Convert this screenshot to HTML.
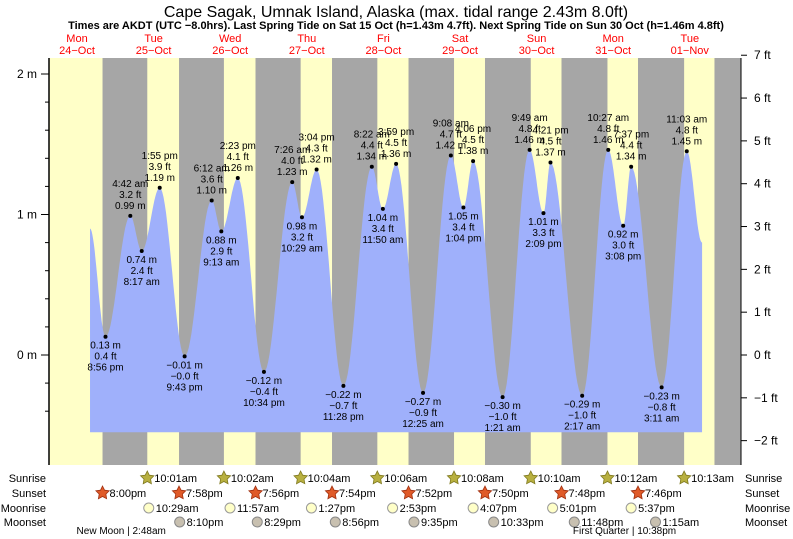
<!DOCTYPE html>
<html><head><meta charset="utf-8"><style>
body{margin:0;background:#fff}
svg{display:block;font-family:"Liberation Sans",sans-serif}
</style></head><body>
<svg id="c" width="793" height="539" viewBox="0 0 793 539">
<text x="396" y="17" text-anchor="middle" font-size="16">Cape Sagak, Umnak Island, Alaska (max. tidal range 2.43m 8.0ft)</text>
<text x="396" y="29" text-anchor="middle" font-size="11" font-weight="bold">Times are AKDT (UTC −8.0hrs). Last Spring Tide on Sat 15 Oct (h=1.43m 4.7ft). Next Spring Tide on Sun 30 Oct (h=1.46m 4.8ft)</text>
<g id="bands"></g>
<g id="tide"></g>
<g id="axes"></g>
<g id="labels"></g>
<g id="days"></g>
<g id="astro"></g>
</svg>
<script>
// data (day offset from 24-Oct 00:00, hours)
const tideDays = [0,0,1,1,1,1,2,2,2,2,3,3,3,3,4,4,4,5,5,5,5,6,6,6,6,7,7,7,7,8,8,8,8];
const tideHours = [16.08,20.93,4.7,8.28,13.92,21.72,6.2,9.22,14.38,22.57,7.43,10.48,15.07,23.47,8.37,11.83,15.98,0.42,9.13,13.07,16.1,1.35,9.82,14.15,16.35,2.28,10.45,15.13,17.62,3.18,11.05,15.83,15.84];
const tideHeights = [0.9,0.13,0.99,0.74,1.19,-0.01,1.10,0.88,1.26,-0.12,1.23,0.98,1.32,-0.22,1.34,1.04,1.36,-0.27,1.42,1.05,1.38,-0.30,1.46,1.01,1.37,-0.29,1.46,0.92,1.34,-0.23,1.45,0.8,0.8];
const tideTimes = ["","8:56 pm","4:42 am","8:17 am","1:55 pm","9:43 pm","6:12 am","9:13 am","2:23 pm","10:34 pm","7:26 am","10:29 am","3:04 pm","11:28 pm","8:22 am","11:50 am","3:59 pm","12:25 am","9:08 am","1:04 pm","4:06 pm","1:21 am","9:49 am","2:09 pm","4:21 pm","2:17 am","10:27 am","3:08 pm","7:37 pm","3:11 am","11:03 am","",""];
const dayNames = ["Mon","Tue","Wed","Thu","Fri","Sat","Sun","Mon","Tue"];
const dayDates = ["24−Oct","25−Oct","26−Oct","27−Oct","28−Oct","29−Oct","30−Oct","31−Oct","01−Nov"];
const sunriseHours = [null,10.02,10.03,10.07,10.1,10.13,10.17,10.2,10.22];
const sunriseText = ["","10:01am","10:02am","10:04am","10:06am","10:08am","10:10am","10:12am","10:13am"];
const sunsetHours = [20.0,19.97,19.93,19.9,19.87,19.83,19.8,19.77,19.73];
const sunsetText = ["8:00pm","7:58pm","7:56pm","7:54pm","7:52pm","7:50pm","7:48pm","7:46pm",""];
const moonriseDays = [1,2,3,4,5,6,7];
const moonriseHours = [10.48,11.95,13.45,14.88,16.12,17.02,17.62];
const moonriseText = ["10:29am","11:57am","1:27pm","2:53pm","4:07pm","5:01pm","5:37pm"];
const moonsetDays = [1,2,3,4,5,6,8];
const moonsetHours = [20.17,20.48,20.93,21.58,22.55,23.8,1.25];
const moonsetText = ["8:10pm","8:29pm","8:56pm","9:35pm","10:33pm","11:48pm","1:15am"];
const phaseDays = [1,7];
const phaseHours = [2.8,22.63];
const phaseText = ["New Moon | 2:48am","First Quarter | 10:38pm"];
const mTicks = [0,1,2];
const ftTicks = [-2,-1,0,1,2,3,4,5,6,7];

const NS="http://www.w3.org/2000/svg";
const X0=38.7, DAYW=76.6, Y0=355, MPX=140.5, PL=49, PR=741, PT=58, PB=465;
const xs=(d,h)=>X0+DAYW*(d+h/24);
const ys=m=>Y0-m*MPX;
function mk(tag,attrs,parent){const e=document.createElementNS(NS,tag);for(const k in attrs)e.setAttribute(k,attrs[k]);parent.appendChild(e);return e;}
const bands=document.getElementById('bands');
let r=mk('rect',{x:PL,y:PT,width:PR-PL,height:PB-PT,fill:'#ffffc8'},bands);


for(let i=0;i<sunsetHours.length;i++){
  const x1=xs(i,sunsetHours[i]);
  const x2=(i+1<sunriseHours.length&&sunriseHours[i+1]!=null)?xs(i+1,sunriseHours[i+1]):PR;
  const nb=mk('rect',{x:x1,y:PT,width:Math.min(x2,PR)-x1,height:PB-PT,fill:'#a6a6a6'},bands);
  
  
}
const tide=document.getElementById('tide');
const pts=tideDays.map((d,i)=>[xs(d,tideHours[i]),tideHeights[i]]);
let path=`M${pts[0][0]},${ys(-0.55)} L${pts[0][0]},${ys(pts[0][1])}`;
for(let i=0;i<pts.length-1;i++){
  const [xa,ha]=pts[i],[xb,hb]=pts[i+1];
  for(let s=1;s<=20;s++){const t=s/20;const x=xa+(xb-xa)*t;const h=ha+(hb-ha)*(1-Math.cos(Math.PI*t))/2;path+=` L${x.toFixed(1)},${ys(h).toFixed(1)}`;}
}
path+=` L${pts[pts.length-1][0]},${ys(-0.55)} Z`;
const tp=mk('path',{d:path,fill:'#9fb0fb'},tide);


const axes=document.getElementById('axes');
mk('line',{x1:PL,y1:PT,x2:PL,y2:PB,stroke:'#000','stroke-width':1.5},axes);
mk('line',{x1:PR,y1:PT,x2:PR,y2:PB,stroke:'#000','stroke-width':1},axes);
for(let v=-0.4;v<=2.01;v+=0.2){mk('line',{x1:PL-4,y1:ys(v),x2:PL,y2:ys(v),stroke:'#000'},axes);}
mTicks.forEach(v=>{mk('line',{x1:PL-8,y1:ys(v),x2:PL,y2:ys(v),stroke:'#000'},axes);
  const t=mk('text',{x:PL-12,y:ys(v)+4,'text-anchor':'end','font-size':12},axes);t.textContent=v+' m';
  
  });
ftTicks.forEach(v=>{const y=Y0-v*0.3048*MPX;mk('line',{x1:PR,y1:y,x2:PR+6,y2:y,stroke:'#000'},axes);
  const t=mk('text',{x:PR+13,y:y+4,'font-size':12},axes);t.textContent=(v<0?'−'+(-v):v)+' ft';
  
  });
const lab=document.getElementById('labels');
for(let i=1;i<pts.length-2;i++){
  const [x,h]=pts[i];const y=ys(h);const high=h>tideHeights[i-1];
  mk('circle',{cx:x,cy:y,r:2,fill:'#000'},lab);
  const ft=(h*3.28084).toFixed(1).replace('-','−')+' ft';
  const m=h.toFixed(2).replace('-','−')+' m';
  const lines=high?[tideTimes[i],ft,m]:[m,ft,tideTimes[i]];
  const base=high?y-29:y+12;
  lines.forEach((s,k)=>{const t=mk('text',{x:x,y:base+k*11,'text-anchor':'middle','font-size':10},lab);t.textContent=s;
    
    });
}
const days=document.getElementById('days');
dayNames.forEach((n,i)=>{const x=xs(i,12);
  const a=mk('text',{x:x,y:42,'text-anchor':'middle','font-size':11,fill:'#ff0000'},days);a.textContent=n;
  
  
  const b=mk('text',{x:x,y:54,'text-anchor':'middle','font-size':11,fill:'#ff0000'},days);b.textContent=dayDates[i];
  
  });
const astro=document.getElementById('astro');
const rowY=[478,493,508,522];
['Sunrise','Sunset','Moonrise','Moonset'].forEach((n,i)=>{
  const a=mk('text',{x:46,y:rowY[i]+4,'text-anchor':'end','font-size':11},astro);a.textContent=n;
  
  
  const b=mk('text',{x:745,y:rowY[i]+4,'font-size':11},astro);b.textContent=n;
  
  });
function star(cx,cy,fill,stroke){let p='';for(let k=0;k<10;k++){const rr=k%2?3.5:7;const a=-Math.PI/2+k*Math.PI/5;p+=(cx+rr*Math.cos(a)).toFixed(1)+','+(cy+rr*Math.sin(a)).toFixed(1)+' ';}
  return mk('polygon',{points:p,fill:fill,stroke:stroke,'stroke-width':0.8},astro);}
function ev(x,y,txt,kind){
  let ic;
  if(kind==='sr')ic=star(x,y,'#b8b040','#807a20');
  else if(kind==='ss')ic=star(x,y,'#e05a28','#a03010');
  else if(kind==='mr')ic=mk('circle',{cx:x,cy:y,r:5,fill:'#ffffc8',stroke:'#999'},astro);
  else ic=mk('circle',{cx:x,cy:y,r:5,fill:'#c8c0b0',stroke:'#888'},astro);
  
  
  const t=mk('text',{x:x+7,y:y+4,'font-size':11},astro);t.textContent=txt;
  
  
}
sunriseHours.forEach((h,i)=>{if(h!=null)ev(xs(i,h),rowY[0],sunriseText[i],'sr');});
sunsetHours.forEach((h,i)=>{if(sunsetText[i])ev(xs(i,h),rowY[1],sunsetText[i],'ss');});
moonriseDays.forEach((d,i)=>ev(xs(d,moonriseHours[i]),rowY[2],moonriseText[i],'mr'));
moonsetDays.forEach((d,i)=>ev(xs(d,moonsetHours[i]),rowY[3],moonsetText[i],'ms'));
phaseDays.forEach((d,i)=>{const x=xs(d,phaseHours[i]);const s=phaseText[i];
  const t=mk('text',{x:x,y:534,'font-size':10},astro);t.textContent=s;
  
  
  const pre=s.split('|')[0];const w=pre.length*5.3;t.setAttribute('x',x-w);});
</script>
</body></html>
